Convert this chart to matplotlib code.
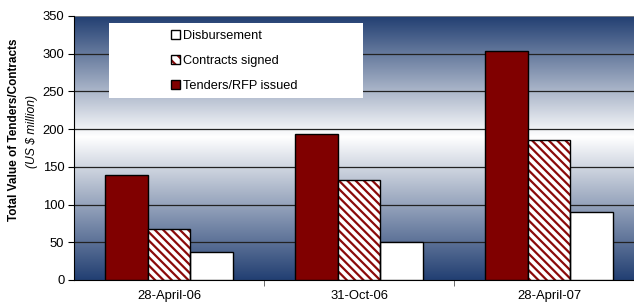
import matplotlib
matplotlib.use("Agg")
import matplotlib.pyplot as plt
import numpy as np
from matplotlib.colors import LinearSegmentedColormap
from matplotlib.patches import Rectangle, Patch

plt.rcParams['font.family'] = ['Liberation Sans', 'DejaVu Sans']
plt.rcParams['hatch.linewidth'] = 1.6

categories = ["28-April-06", "31-Oct-06", "28-April-07"]
tenders = [139, 193, 304]
contracts = [67, 133, 186]
disbursement = [37.5, 51, 90]
yticks = [0, 50, 100, 150, 200, 250, 300, 350]

W, H = 634, 304
fig = plt.figure(figsize=(W / 100, H / 100), dpi=100)
ax = fig.add_axes([74 / W, (H - 280) / H, 570 / W, 264 / H])

navy = "#223f72"
hatch_red = "#8b0a0a"
cmap = LinearSegmentedColormap.from_list("bg", [(0, navy), (190 / 350, "#ffffff"), (1, navy)])
grad = np.linspace(0, 1, 256).reshape(-1, 1)
ax.imshow(grad, aspect="auto", cmap=cmap, extent=[-0.5, 2.5, 0, 350], origin="lower", zorder=0)

for v in yticks[1:-1]:
    ax.axhline(v, color="#222222", lw=0.9, zorder=1)

x = np.arange(len(categories))
w = 0.223
HATCH = "\\" * 4
ax.bar(x - w, tenders, w, color="#800000", edgecolor="black", lw=1.0, zorder=3)
ax.bar(x, contracts, w, color="white", edgecolor=hatch_red, hatch=HATCH, lw=0, zorder=3)
ax.bar(x, contracts, w, color="none", edgecolor="black", lw=1.0, zorder=4)
ax.bar(x + w, disbursement, w, color="white", edgecolor="black", lw=1.0, zorder=3)

ax.set_xlim(-0.5, 2.5)
ax.set_ylim(0, 350)
ax.set_yticks(yticks)
ax.set_xticks(x)
ax.set_xticklabels(categories)
ax.set_xticks([0.5, 1.5], minor=True)
ax.tick_params(axis="x", which="major", length=0, pad=7, labelsize=9.4)
ax.tick_params(axis="x", which="minor", length=4, direction="out", color="#555555")
ax.tick_params(axis="y", length=4, direction="out", labelsize=9.4, pad=3)

for s in ["top", "right"]:
    ax.spines[s].set_visible(False)
ax.spines["left"].set_color("black")
ax.spines["bottom"].set_color("black")
ax.axhline(350, color="#888888", lw=1.2, zorder=2)

# legend panel
ax.add_patch(Rectangle((0.0614, 0.689), 0.446, 0.284, transform=ax.transAxes,
                       facecolor="white", edgecolor="none", zorder=5))
h_disb = Patch(facecolor="white", edgecolor="black", lw=1.0)
h_con = (Patch(facecolor="white", edgecolor=hatch_red, hatch="\\\\\\", lw=0),
         Patch(facecolor="none", edgecolor="black", lw=1.0))
h_ten = Patch(facecolor="#800000", edgecolor="black", lw=1.0)
leg = ax.legend([h_disb, h_con, h_ten], ["Disbursement", "Contracts signed", "Tenders/RFP issued"],
                loc="upper left", bbox_to_anchor=(0.170, 0.948),
                frameon=False, fontsize=9.2, handlelength=0.75, handleheight=0.75,
                handletextpad=0.2, labelspacing=1.0, borderpad=0, borderaxespad=0)
leg.set_zorder(6)

fig.text(14 / W, (H - 130) / H, "Total Value of Tenders/Contracts", rotation=90,
         fontsize=8.5, fontweight="bold", ha="center", va="center")
fig.text(32 / W, (H - 131) / H, "(US $ million)", rotation=90,
         fontsize=8.7, fontstyle="italic", ha="center", va="center")

fig.savefig("out.png", dpi=100)
